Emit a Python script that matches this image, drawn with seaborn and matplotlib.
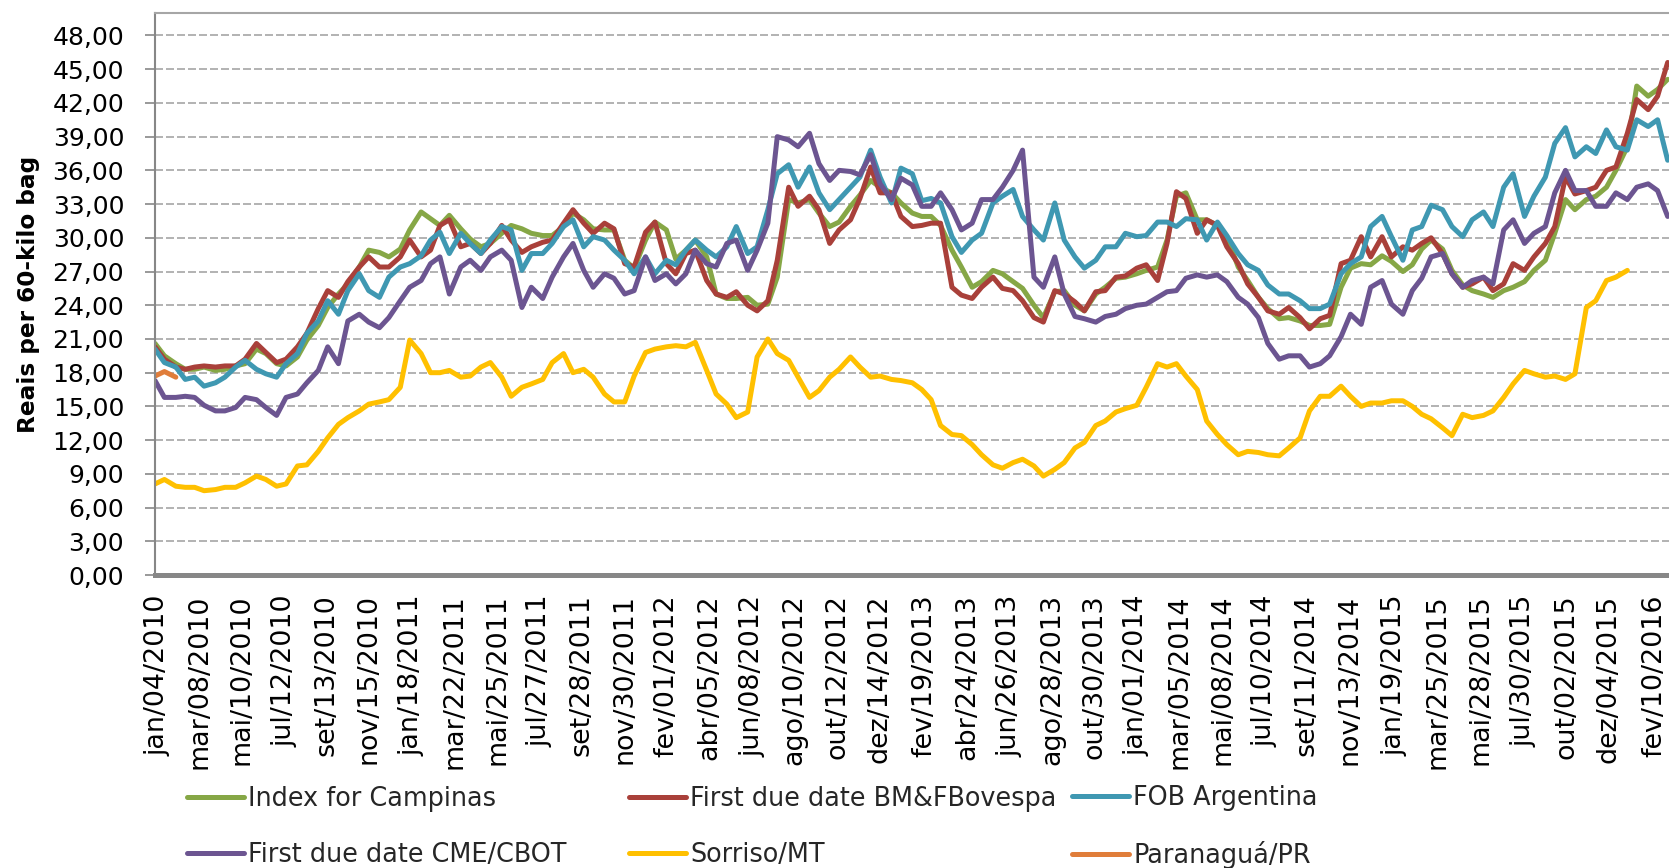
import numpy as np
import pandas as pd
import matplotlib
matplotlib.use("Agg")
import matplotlib.pyplot as plt
import seaborn as sns

# ------------------------------------------------------------------ data
# values at the 1st and 15th of every month
sample_dates = pd.date_range("2010-01-01", "2016-03-01", freq="SMS")

index_campinas = [
    20.6, 19.5, 18.8, 18.3, 18.3, 18.5, 18.2, 18.3, 18.6, 18.8, 20.1, 19.7, 18.8, 18.6, 19.4, 20.9,
    22.2, 23.8, 25.0, 25.9, 27.4, 28.9, 28.7, 28.3, 29.0, 30.7, 32.3, 31.7, 31.1, 32.0, 30.8, 29.9,
    29.2, 29.5, 30.4, 31.1, 30.8, 30.4,
    30.2, 30.2, 31.0, 32.2, 31.6, 30.8, 30.7, 30.7, 28.0, 27.3, 29.8, 31.4, 30.7, 28.1, 28.9, 29.8,
    28.3, 25.0, 24.6, 24.6, 24.7, 24.0, 24.1, 26.5, 33.4, 33.1, 33.4, 32.2, 31.0, 31.4, 32.8, 33.8,
    35.1, 34.5, 34.0, 33.1,
    32.2, 31.9, 31.9, 31.1, 28.9, 27.4, 25.6, 26.1, 27.1, 26.8, 26.1, 25.5, 24.0, 22.9, 25.2, 25.3,
    24.0, 23.5, 25.0, 25.6, 26.4, 26.5, 26.8, 27.1, 27.4, 29.8, 33.7, 34.0, 31.6, 31.6, 31.1, 30.1,
    27.4, 26.2, 24.7, 23.7, 22.8, 22.9,
    22.6, 22.2, 22.2, 22.3, 25.6, 27.3, 27.7, 27.6, 28.4, 27.9, 27.0, 27.6, 29.0, 29.8, 29.0, 27.1,
    25.8, 25.3, 25.0, 24.7, 25.3, 25.6, 26.1, 27.1, 28.0, 30.4, 33.4, 32.5, 33.4, 33.7, 34.5, 36.0,
    38.1, 43.5, 42.6, 43.2, 44.1,
]
first_due_bmf = [
    20.3, 19.2, 18.5, 18.3, 18.5, 18.6, 18.5, 18.6, 18.6, 19.2, 20.6, 19.8, 18.9, 19.2, 20.3, 21.5,
    23.7, 25.3, 24.7, 26.1, 27.4, 28.3, 27.4, 27.4, 28.3, 29.8, 28.3, 28.9, 31.1, 31.6, 29.2, 29.5,
    28.6, 29.5, 31.1, 29.8, 28.7, 29.2,
    29.6, 29.8, 31.3, 32.5, 31.3, 30.4, 31.3, 30.8, 27.7, 27.4, 30.5, 31.4, 27.7, 26.8, 28.6, 28.9,
    26.2, 25.0, 24.7, 25.2, 24.0, 23.5, 24.4, 28.0, 34.5, 32.8, 33.7, 32.5, 29.5, 30.7, 31.6, 33.5,
    36.3, 34.0, 34.0, 31.9,
    31.0, 31.1, 31.3, 31.3, 25.6, 24.9, 24.6, 25.6, 26.5, 25.5, 25.3, 24.4, 22.9, 22.5, 25.3, 25.0,
    24.3, 23.5, 25.2, 25.3, 26.5, 26.6, 27.3, 27.6, 26.2, 29.5, 34.1, 33.5, 30.4, 31.6, 31.1, 29.2,
    27.7, 25.9, 24.7, 23.5, 23.2, 23.8,
    22.9, 21.9, 22.8, 23.1, 27.7, 28.0, 30.1, 28.3, 30.1, 28.3, 29.2, 28.9, 29.5, 30.0, 28.6, 26.8,
    25.6, 25.9, 26.5, 25.3, 25.9, 27.7, 27.1, 28.3, 29.5, 31.0, 35.4, 33.9, 34.2, 34.5, 36.0, 36.3,
    39.3, 42.3, 41.4, 42.6, 45.6,
]
fob_argentina = [
    20.1, 18.9, 18.5, 17.4, 17.6, 16.8, 17.1, 17.6, 18.5, 19.1, 18.3, 17.9, 17.6, 18.8, 19.7, 21.5,
    22.6, 24.4, 23.2, 25.3, 26.8, 25.3, 24.7, 26.5, 27.4, 27.7, 28.4, 29.8, 30.5, 28.6, 30.4, 29.5,
    28.6, 29.8, 31.0, 30.7, 27.1, 28.6,
    28.6, 29.5, 31.0, 31.6, 29.2, 30.1, 29.8, 28.9, 28.0, 26.8, 28.3, 26.8, 28.0, 27.6, 28.9, 29.8,
    28.9, 28.3, 29.2, 31.0, 28.6, 29.2, 32.5, 35.7, 36.5, 34.5, 36.3, 34.0, 32.5, 33.4, 34.5, 35.4,
    37.8, 35.4, 33.1, 36.2,
    35.7, 33.3, 33.5, 33.1, 30.1, 28.7, 29.8, 30.4, 33.1, 33.7, 34.3, 31.9, 30.7, 29.8, 33.1, 29.8,
    28.3, 27.3, 28.0, 29.2, 29.2, 30.4, 30.1, 30.2, 31.4, 31.4, 31.0, 31.7, 31.6, 29.8, 31.4, 30.2,
    28.6, 27.6, 27.1, 25.8, 25.0, 25.0,
    24.4, 23.7, 23.7, 24.1, 26.8, 27.7, 28.3, 31.0, 31.9, 30.1, 28.0, 30.7, 31.0, 32.9, 32.5, 31.0,
    30.1, 31.6, 32.3, 31.0, 34.5, 35.7, 31.9, 33.7, 35.4, 38.4, 39.8, 37.2, 38.1, 37.5, 39.6, 38.1,
    37.8, 40.5, 39.9, 40.5, 36.9,
]
first_due_cme = [
    17.3, 15.8, 15.8, 15.9, 15.8, 15.1, 14.6, 14.6, 14.9, 15.8, 15.6, 14.9, 14.2, 15.8, 16.1, 17.1,
    18.2, 20.3, 18.8, 22.6, 23.2, 22.5, 22.0, 22.9, 24.4, 25.6, 26.2, 27.7, 28.3, 25.0, 27.4, 28.0,
    27.1, 28.3, 28.9, 28.0, 23.8, 25.6,
    24.6, 26.5, 28.3, 29.5, 27.1, 25.6, 26.8, 26.4, 25.0, 25.3, 28.3, 26.2, 26.8, 25.9, 26.8, 28.9,
    27.7, 27.4, 29.5, 29.8, 27.1, 28.9, 31.3, 39.0, 38.7, 38.1, 39.3, 36.6, 35.1, 36.0, 35.9, 35.6,
    37.4, 34.8, 33.4, 35.3,
    34.7, 32.8, 32.8, 34.0, 32.5, 30.7, 31.3, 33.4, 33.4, 34.5, 36.0, 37.8, 26.5, 25.6, 28.3, 25.0,
    23.0, 22.8, 22.5, 23.0, 23.2, 23.7, 24.0, 24.1, 24.7, 25.2, 25.3, 26.4, 26.7, 26.5, 26.7, 26.1,
    24.7, 24.1, 22.9, 20.6, 19.2, 19.5,
    19.5, 18.5, 18.8, 19.5, 21.2, 23.2, 22.3, 25.6, 26.2, 24.1, 23.2, 25.3, 26.4, 28.3, 28.6, 26.8,
    25.6, 26.2, 26.5, 25.9, 30.7, 31.6, 29.5, 30.4, 31.0, 34.0, 36.0, 34.2, 34.2, 32.8, 32.8, 34.0,
    33.4, 34.5, 34.8, 34.2, 31.9,
]
sorriso_mt = [
    8.1, 8.5, 7.9, 7.8, 7.8, 7.5, 7.6, 7.8, 7.8, 8.2, 8.8, 8.5, 7.9, 8.1, 9.7, 9.8,
    11.0, 12.2, 13.4, 14.0, 14.6, 15.2, 15.4, 15.6, 16.7, 20.9, 19.7, 18.0, 18.0, 18.2, 17.6, 17.7,
    18.5, 18.9, 17.6, 15.9, 16.7, 17.0,
    17.4, 18.9, 19.7, 18.0, 18.3, 17.6, 16.1, 15.4, 15.4, 17.7, 19.8, 20.1, 20.3, 20.4, 20.3, 20.7,
    18.2, 16.1, 15.2, 14.0, 14.5, 19.4, 21.0, 19.7, 19.1, 17.6, 15.8, 16.4, 17.6, 18.3, 19.4, 18.5,
    17.6, 17.7, 17.4, 17.3,
    17.1, 16.5, 15.6, 13.3, 12.5, 12.4, 11.6, 10.7, 9.8, 9.5, 10.0, 10.3, 9.7, 8.8, 9.4, 10.0,
    11.3, 11.8, 13.3, 13.7, 14.5, 14.8, 15.1, 16.7, 18.8, 18.5, 18.8, 17.7, 16.5, 13.7, 12.5, 11.6,
    10.7, 11.0, 10.9, 10.7, 10.6, 11.3,
    12.2, 14.6, 15.9, 15.9, 16.8, 15.9, 15.0, 15.3, 15.3, 15.5, 15.5, 15.0, 14.3, 13.9, 13.1, 12.4,
    14.3, 14.0, 14.2, 14.6, 15.8, 17.0, 18.2, 17.9, 17.6, 17.7, 17.4, 17.9, 23.8, 24.4, 26.2, 26.5,
    27.1,
]
paranagua_pr = [17.7, 18.1, 17.6]

series_names = ["Index for Campinas", "First due date BM&FBovespa", "FOB Argentina",
                "First due date CME/CBOT", "Sorriso/MT", "Paranaguá/PR"]
series_values = [index_campinas, first_due_bmf, fob_argentina,
                 first_due_cme, sorriso_mt, paranagua_pr]
series_colors = ["#86A746", "#A9403A", "#3F98B2", "#6C5591", "#FFC000", "#E07D3A"]

x_tick_labels = [
    "jan/04/2010", "mar/08/2010", "mai/10/2010", "jul/12/2010", "set/13/2010", "nov/15/2010",
    "jan/18/2011", "mar/22/2011", "mai/25/2011", "jul/27/2011", "set/28/2011", "nov/30/2011",
    "fev/01/2012", "abr/05/2012", "jun/08/2012", "ago/10/2012", "out/12/2012", "dez/14/2012",
    "fev/19/2013", "abr/24/2013", "jun/26/2013", "ago/28/2013", "out/30/2013",
    "jan/01/2014", "mar/05/2014", "mai/08/2014", "jul/10/2014", "set/11/2014", "nov/13/2014",
    "jan/19/2015", "mar/25/2015", "mai/28/2015", "jul/30/2015", "out/02/2015", "dez/04/2015",
    "fev/10/2016",
]
y_ticks = [0, 3, 6, 9, 12, 15, 18, 21, 24, 27, 30, 33, 36, 39, 42, 45, 48]
y_label = "Reais per 60-kilo bag"

pt_months = {"jan": 1, "fev": 2, "mar": 3, "abr": 4, "mai": 5, "jun": 6,
             "jul": 7, "ago": 8, "set": 9, "out": 10, "nov": 11, "dez": 12}


def parse_pt(lbl):
    m, d, y = lbl.split("/")
    return pd.Timestamp(int(y), pt_months[m], int(d))


# ------------------------------------------------------------------ plot
sns.set_theme(style="white")
plt.rcParams["font.family"] = ["DejaVu Sans"]

W, H = 1669, 868
fig = plt.figure(figsize=(W / 100, H / 100), dpi=100)
ax = fig.add_axes([155 / W, 1 - 575 / H, 1 - 155 / W, (575 - 13) / H])

for name, vals, col in zip(series_names, series_values, series_colors):
    sns.lineplot(x=sample_dates[:len(vals)], y=vals, color=col, linewidth=3.6,
                 label=name, ax=ax, legend=False)

ax.set_xlim(pd.Timestamp("2010-01-01"), pd.Timestamp("2016-03-03"))
ax.set_ylim(0, 50)

ax.set_xticks([parse_pt(l) for l in x_tick_labels])
ax.set_xticklabels(x_tick_labels, rotation=90, fontsize=19.4, color="black")
ax.set_yticks(y_ticks)
ax.set_yticklabels([f"{v:.2f}".replace(".", ",") for v in y_ticks], fontsize=18, color="black")

ax.tick_params(axis="y", direction="out", length=7.2, width=1.2, color="#878787", pad=15, left=True)
ax.tick_params(axis="x", length=0, pad=14)

ax.set_axisbelow(True)
ax.grid(axis="y", color="#A6A6A6", linestyle=(0, (4.8, 1.8)), linewidth=1.2)
ax.grid(axis="x", visible=False)

ax.spines["bottom"].set(color="#878787", linewidth=3.6)
ax.spines["left"].set(color="#878787", linewidth=1.5)
ax.spines["top"].set(color="#A6A6A6", linewidth=1.5)
ax.spines["right"].set_visible(False)

ax.set_xlabel("")
ax.set_ylabel(y_label, fontsize=16.7, fontweight="bold", color="black")
ax.yaxis.set_label_coords((40 - 155) / 1514, 0.5)

handles, labels = ax.get_legend_handles_labels()
columns = [[0, 3], [1, 4], [2, 5]]
col_x = [187, 629, 1072]
for xs, idx in zip(col_x, columns):
    fig.legend([handles[i] for i in idx], [labels[i] for i in idx],
               loc="center left", bbox_to_anchor=(xs / W, 1 - 827 / H),
               frameon=False, fontsize=18.4, handlelength=2.24, handletextpad=0.16,
               labelspacing=1.2, borderpad=0, borderaxespad=0)

fig.savefig("out.png", dpi=100)
